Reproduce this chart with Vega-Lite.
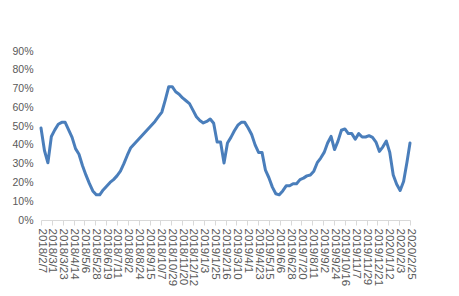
{
  "$schema": "https://vega.github.io/schema/vega-lite/v6.json",
  "width": 369,
  "height": 169,
  "autosize": {"type": "none"},
  "padding": {"left": 41, "top": 51, "right": 49, "bottom": 76},
  "background": "white",
  "config": {
    "view": {"stroke": null},
    "font": "Liberation Sans"
  },
  "data": {
    "values": [
      {"date": "2018-02-07", "v": 0.49},
      {"date": "2018-02-14", "v": 0.37},
      {"date": "2018-02-21", "v": 0.305},
      {"date": "2018-02-28", "v": 0.445},
      {"date": "2018-03-07", "v": 0.48},
      {"date": "2018-03-14", "v": 0.51},
      {"date": "2018-03-21", "v": 0.52},
      {"date": "2018-03-28", "v": 0.52},
      {"date": "2018-04-04", "v": 0.48},
      {"date": "2018-04-11", "v": 0.44},
      {"date": "2018-04-18", "v": 0.38},
      {"date": "2018-04-25", "v": 0.35},
      {"date": "2018-05-02", "v": 0.29},
      {"date": "2018-05-09", "v": 0.24},
      {"date": "2018-05-16", "v": 0.195},
      {"date": "2018-05-23", "v": 0.155},
      {"date": "2018-05-30", "v": 0.134},
      {"date": "2018-06-06", "v": 0.134},
      {"date": "2018-06-13", "v": 0.16},
      {"date": "2018-06-20", "v": 0.18},
      {"date": "2018-06-27", "v": 0.20},
      {"date": "2018-07-04", "v": 0.215},
      {"date": "2018-07-11", "v": 0.235},
      {"date": "2018-07-18", "v": 0.26},
      {"date": "2018-07-25", "v": 0.30},
      {"date": "2018-08-01", "v": 0.345},
      {"date": "2018-08-08", "v": 0.385},
      {"date": "2018-08-15", "v": 0.405},
      {"date": "2018-08-22", "v": 0.425},
      {"date": "2018-08-29", "v": 0.445},
      {"date": "2018-09-05", "v": 0.465},
      {"date": "2018-09-12", "v": 0.485},
      {"date": "2018-09-19", "v": 0.505},
      {"date": "2018-09-26", "v": 0.525},
      {"date": "2018-10-03", "v": 0.55},
      {"date": "2018-10-10", "v": 0.575},
      {"date": "2018-10-17", "v": 0.64},
      {"date": "2018-10-24", "v": 0.71},
      {"date": "2018-10-31", "v": 0.71},
      {"date": "2018-11-07", "v": 0.683},
      {"date": "2018-11-14", "v": 0.67},
      {"date": "2018-11-21", "v": 0.65},
      {"date": "2018-11-28", "v": 0.635},
      {"date": "2018-12-05", "v": 0.62},
      {"date": "2018-12-12", "v": 0.585},
      {"date": "2018-12-19", "v": 0.55},
      {"date": "2018-12-26", "v": 0.53},
      {"date": "2019-01-02", "v": 0.517},
      {"date": "2019-01-09", "v": 0.525},
      {"date": "2019-01-16", "v": 0.538},
      {"date": "2019-01-23", "v": 0.515},
      {"date": "2019-01-30", "v": 0.415},
      {"date": "2019-02-06", "v": 0.415},
      {"date": "2019-02-13", "v": 0.303},
      {"date": "2019-02-20", "v": 0.41},
      {"date": "2019-02-27", "v": 0.44},
      {"date": "2019-03-06", "v": 0.475},
      {"date": "2019-03-13", "v": 0.505},
      {"date": "2019-03-20", "v": 0.52},
      {"date": "2019-03-27", "v": 0.52},
      {"date": "2019-04-03", "v": 0.49},
      {"date": "2019-04-10", "v": 0.455},
      {"date": "2019-04-17", "v": 0.40},
      {"date": "2019-04-24", "v": 0.36},
      {"date": "2019-05-01", "v": 0.36},
      {"date": "2019-05-08", "v": 0.265},
      {"date": "2019-05-15", "v": 0.225},
      {"date": "2019-05-22", "v": 0.175},
      {"date": "2019-05-29", "v": 0.14},
      {"date": "2019-06-05", "v": 0.134},
      {"date": "2019-06-12", "v": 0.155},
      {"date": "2019-06-19", "v": 0.182},
      {"date": "2019-06-26", "v": 0.182},
      {"date": "2019-07-03", "v": 0.193},
      {"date": "2019-07-10", "v": 0.193},
      {"date": "2019-07-17", "v": 0.215},
      {"date": "2019-07-24", "v": 0.223},
      {"date": "2019-07-31", "v": 0.235},
      {"date": "2019-08-07", "v": 0.24},
      {"date": "2019-08-14", "v": 0.26},
      {"date": "2019-08-21", "v": 0.305},
      {"date": "2019-08-28", "v": 0.33},
      {"date": "2019-09-04", "v": 0.36},
      {"date": "2019-09-11", "v": 0.41},
      {"date": "2019-09-18", "v": 0.445},
      {"date": "2019-09-25", "v": 0.375},
      {"date": "2019-10-02", "v": 0.42},
      {"date": "2019-10-09", "v": 0.478},
      {"date": "2019-10-16", "v": 0.485},
      {"date": "2019-10-23", "v": 0.46},
      {"date": "2019-10-30", "v": 0.46},
      {"date": "2019-11-06", "v": 0.43},
      {"date": "2019-11-13", "v": 0.46},
      {"date": "2019-11-20", "v": 0.442},
      {"date": "2019-11-27", "v": 0.442},
      {"date": "2019-12-04", "v": 0.449},
      {"date": "2019-12-11", "v": 0.44},
      {"date": "2019-12-18", "v": 0.415},
      {"date": "2019-12-25", "v": 0.365},
      {"date": "2020-01-01", "v": 0.39},
      {"date": "2020-01-08", "v": 0.42},
      {"date": "2020-01-15", "v": 0.36},
      {"date": "2020-01-22", "v": 0.24},
      {"date": "2020-01-29", "v": 0.19},
      {"date": "2020-02-05", "v": 0.157},
      {"date": "2020-02-12", "v": 0.205},
      {"date": "2020-02-19", "v": 0.31},
      {"date": "2020-02-25", "v": 0.41}
    ]
  },
  "mark": {"type": "line", "color": "#4a7ebb", "strokeWidth": 3, "strokeJoin": "round", "strokeCap": "round"},
  "encoding": {
    "x": {
      "field": "date",
      "type": "temporal",
      "scale": {"type": "utc", "nice": false},
      "axis": {
        "title": null,
        "format": "%Y/%-m/%-d",
        "labelAngle": 90,
        "labelAlign": "left",
        "labelBaseline": "middle",
        "labelFontSize": 11.5,
        "labelColor": "#595959",
        "labelPadding": 3,
        "labelOverlap": false,
        "labelFlush": false,
        "domainColor": "#d9d9d9",
        "tickColor": "#d9d9d9",
        "tickSize": 5,
        "grid": false,
        "values": [
          {"year": 2018, "month": 2, "date": 7, "utc": true},
          {"year": 2018, "month": 3, "date": 1, "utc": true},
          {"year": 2018, "month": 3, "date": 23, "utc": true},
          {"year": 2018, "month": 4, "date": 14, "utc": true},
          {"year": 2018, "month": 5, "date": 6, "utc": true},
          {"year": 2018, "month": 5, "date": 28, "utc": true},
          {"year": 2018, "month": 6, "date": 19, "utc": true},
          {"year": 2018, "month": 7, "date": 11, "utc": true},
          {"year": 2018, "month": 8, "date": 2, "utc": true},
          {"year": 2018, "month": 8, "date": 24, "utc": true},
          {"year": 2018, "month": 9, "date": 15, "utc": true},
          {"year": 2018, "month": 10, "date": 7, "utc": true},
          {"year": 2018, "month": 10, "date": 29, "utc": true},
          {"year": 2018, "month": 11, "date": 20, "utc": true},
          {"year": 2018, "month": 12, "date": 12, "utc": true},
          {"year": 2019, "month": 1, "date": 3, "utc": true},
          {"year": 2019, "month": 1, "date": 25, "utc": true},
          {"year": 2019, "month": 2, "date": 16, "utc": true},
          {"year": 2019, "month": 3, "date": 10, "utc": true},
          {"year": 2019, "month": 4, "date": 1, "utc": true},
          {"year": 2019, "month": 4, "date": 23, "utc": true},
          {"year": 2019, "month": 5, "date": 15, "utc": true},
          {"year": 2019, "month": 6, "date": 6, "utc": true},
          {"year": 2019, "month": 6, "date": 28, "utc": true},
          {"year": 2019, "month": 7, "date": 20, "utc": true},
          {"year": 2019, "month": 8, "date": 11, "utc": true},
          {"year": 2019, "month": 9, "date": 2, "utc": true},
          {"year": 2019, "month": 9, "date": 24, "utc": true},
          {"year": 2019, "month": 10, "date": 16, "utc": true},
          {"year": 2019, "month": 11, "date": 7, "utc": true},
          {"year": 2019, "month": 11, "date": 29, "utc": true},
          {"year": 2019, "month": 12, "date": 21, "utc": true},
          {"year": 2020, "month": 1, "date": 12, "utc": true},
          {"year": 2020, "month": 2, "date": 3, "utc": true},
          {"year": 2020, "month": 2, "date": 25, "utc": true}
        ]
      }
    },
    "y": {
      "field": "v",
      "type": "quantitative",
      "scale": {"domain": [0, 0.9], "nice": false},
      "axis": {
        "title": null,
        "format": ".0%",
        "values": [0, 0.1, 0.2, 0.3, 0.4, 0.5, 0.6, 0.7, 0.8, 0.9],
        "domain": false,
        "ticks": false,
        "grid": false,
        "labelPadding": 8,
        "labelFontSize": 10.5,
        "labelColor": "#595959"
      }
    }
  }
}
